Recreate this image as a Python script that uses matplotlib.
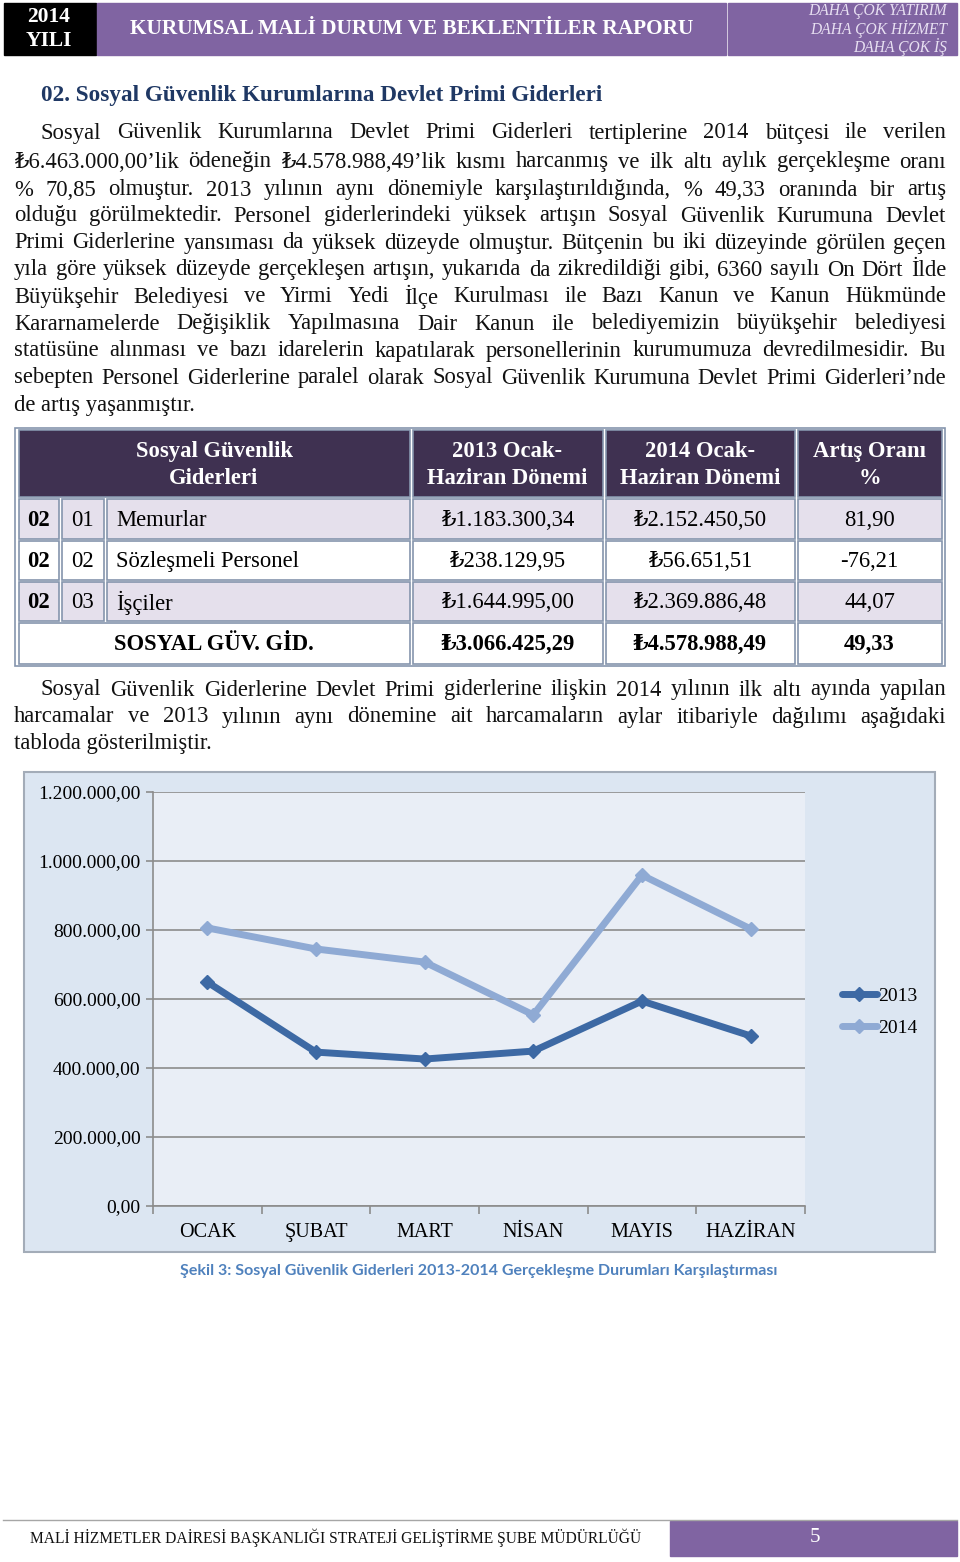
import matplotlib
matplotlib.use("Agg")
import matplotlib.pyplot as plt
from matplotlib.patches import Rectangle
from matplotlib.ticker import FuncFormatter

plt.rcParams["font.family"] = ["Liberation Serif", "DejaVu Serif"]

# chart data
months = ["OCAK", "ŞUBAT", "MART", "NİSAN", "MAYIS", "HAZİRAN"]
y2013 = [649000, 446000, 426000, 449000, 594000, 493000]
y2014 = [806000, 745000, 707000, 554000, 959000, 803000]

# table data
header_cells = ["Sosyal Güvenlik\nGiderleri", "2013 Ocak-\nHaziran Dönemi",
                "2014 Ocak-\nHaziran Dönemi", "Artış Oranı\n%"]
row_codes = ["02", "02", "02"]
row_subcodes = ["01", "02", "03"]
row_names = ["Memurlar", "Sözleşmeli Personel", "İşçiler"]
amount_2013 = ["₺1.183.300,34", "₺238.129,95", "₺1.644.995,00"]
amount_2014 = ["₺2.152.450,50", "₺56.651,51", "₺2.369.886,48"]
change_pct = ["81,90", "-76,21", "44,07"]
total_row = ["SOSYAL GÜV. GİD.", "₺3.066.425,29", "₺4.578.988,49", "49,33"]

para1 = [
    "Sosyal Güvenlik Kurumlarına Devlet Primi Giderleri tertiplerine 2014 bütçesi ile verilen",
    "₺6.463.000,00’lik ödeneğin ₺4.578.988,49’lik kısmı harcanmış ve ilk altı aylık gerçekleşme oranı",
    "% 70,85 olmuştur. 2013 yılının aynı dönemiyle karşılaştırıldığında, % 49,33 oranında bir artış",
    "olduğu görülmektedir. Personel giderlerindeki yüksek artışın Sosyal Güvenlik Kurumuna Devlet",
    "Primi Giderlerine yansıması da yüksek düzeyde olmuştur. Bütçenin bu iki düzeyinde görülen geçen",
    "yıla göre yüksek düzeyde gerçekleşen artışın, yukarıda da zikredildiği gibi, 6360 sayılı On Dört İlde",
    "Büyükşehir Belediyesi ve Yirmi Yedi İlçe Kurulması ile Bazı Kanun ve Kanun Hükmünde",
    "Kararnamelerde Değişiklik Yapılmasına Dair Kanun ile belediyemizin büyükşehir belediyesi",
    "statüsüne alınması ve bazı idarelerin kapatılarak personellerinin kurumumuza devredilmesidir. Bu",
    "sebepten Personel Giderlerine paralel olarak Sosyal Güvenlik Kurumuna Devlet Primi Giderleri’nde",
    "de artış yaşanmıştır.",
]
para2 = [
    "Sosyal Güvenlik Giderlerine Devlet Primi giderlerine ilişkin 2014 yılının ilk altı ayında yapılan",
    "harcamalar ve 2013 yılının aynı dönemine ait harcamaların aylar itibariyle dağılımı aşağıdaki",
    "tabloda gösterilmiştir.",
]

PURPLE = "#8064a2"
DARK_PURPLE = "#3f3151"
LAVENDER = "#e5e0ec"
BORDER = "#8595ad"
C2013 = "#3d69a4"
C2014 = "#8faad4"
BODY = 16.3

fig = plt.figure(figsize=(9.6, 15.62), dpi=100)
page = fig.add_axes([0, 0, 1, 1])
page.set_xlim(0, 960)
page.set_ylim(1562, 0)
page.axis("off")
renderer = fig.canvas.get_renderer()


def width_of(t):
    return t.get_window_extent(renderer).width


def fitted(x, y, s, target_w, size, ha="left", **kw):
    t = page.text(x, y, s, fontsize=size, ha=ha, va="center", **kw)
    t.set_fontsize(size * target_w / width_of(t))
    return t


def justified(x0, x1, y, line, size=BODY, justify=True, **kw):
    if not justify:
        page.text(x0, y, line, fontsize=size, ha="left", va="center", **kw)
        return
    words = line.split(" ")
    items = [page.text(0, y, w, fontsize=size, ha="left", va="center", **kw) for w in words]
    widths = [width_of(t) for t in items]
    gap = (x1 - x0 - sum(widths)) / (len(words) - 1)
    xx = x0
    for t, w in zip(items, widths):
        t.set_x(xx)
        xx += w + gap


# header band
page.add_patch(Rectangle((4, 3), 92, 52, color="black"))
page.add_patch(Rectangle((97, 3), 629, 52, color=PURPLE))
page.add_patch(Rectangle((728, 3), 229, 52, color=PURPLE))
page.text(49, 17, "2014", color="white", fontsize=15.5, fontweight="bold", ha="center", va="center")
page.text(49, 41, "YILI", color="white", fontsize=15.5, fontweight="bold", ha="center", va="center")
fitted(130, 29, "KURUMSAL MALİ DURUM VE BEKLENTİLER RAPORU", 565, 15,
       color="white", fontweight="bold")
for yy, s in zip([11, 29, 47], ["DAHA ÇOK YATIRIM", "DAHA ÇOK HİZMET", "DAHA ÇOK İŞ"]):
    page.text(947, yy, s, color="#e8e0f2", fontsize=11.2, fontstyle="italic",
              ha="right", va="center")

# section heading
fitted(41, 96, "02. Sosyal Güvenlik Kurumlarına Devlet Primi Giderleri", 562, 15,
       color="#1f3864", fontweight="bold")

# first paragraph
line_y = [133, 162, 190, 216, 243, 270, 297, 324, 351, 378, 405]
for i, (yy, line) in enumerate(zip(line_y, para1)):
    x0 = 41 if i == 0 else 14
    justified(x0, 946, yy, line, justify=(i < len(para1) - 1), color="#111111")

# table
cols = [17, 60, 105, 411, 604, 796, 943]
rows = [(430, 497), (499, 539), (541, 580), (582, 621), (623, 664)]
page.add_patch(Rectangle((15, 428), 930, 238, fill=False, ec=BORDER, lw=1.2))


def cell(x0, x1, band, fc):
    y0, y1 = band
    page.add_patch(Rectangle((x0 + 1.5, y0), x1 - x0 - 3, y1 - y0, fc=fc, ec=BORDER, lw=1.2))


# header row
hdr_spans = [(cols[0], cols[3]), (cols[3], cols[4]), (cols[4], cols[5]), (cols[5], cols[6])]
for (x0, x1), s in zip(hdr_spans, header_cells):
    cell(x0, x1, rows[0], DARK_PURPLE)
    page.text((x0 + x1) / 2, sum(rows[0]) / 2 + 1.5, s, color="white", fontsize=BODY,
              fontweight="bold", ha="center", va="center", linespacing=1.35)

for i in range(3):
    band = rows[i + 1]
    fc = LAVENDER if i != 1 else "white"
    for c in range(6):
        cell(cols[c], cols[c + 1], band, fc)
    yc = sum(band) / 2 + 1
    page.text((cols[0] + cols[1]) / 2, yc, row_codes[i], fontsize=BODY, fontweight="bold",
              ha="center", va="center")
    page.text((cols[1] + cols[2]) / 2, yc, row_subcodes[i], fontsize=BODY, ha="center", va="center")
    page.text(cols[2] + 11, yc, row_names[i], fontsize=BODY, ha="left", va="center")
    page.text((cols[3] + cols[4]) / 2, yc, amount_2013[i], fontsize=BODY, ha="center", va="center")
    page.text((cols[4] + cols[5]) / 2, yc, amount_2014[i], fontsize=BODY, ha="center", va="center")
    page.text((cols[5] + cols[6]) / 2, yc, change_pct[i], fontsize=BODY, ha="center", va="center")

band = rows[4]
for (x0, x1), s in zip(hdr_spans, total_row):
    cell(x0, x1, band, "white")
    page.text((x0 + x1) / 2, sum(band) / 2 + 1, s, fontsize=BODY, fontweight="bold",
              ha="center", va="center")

# second paragraph
for i, (yy, line) in enumerate(zip([690, 717, 744], para2)):
    x0 = 41 if i == 0 else 14
    justified(x0, 946, yy, line, justify=(i < len(para2) - 1), color="#111111")

# chart frame
page.add_patch(Rectangle((24, 772), 911, 480, fc="#dce6f2", ec="#a3acb8", lw=1.5))

ax = fig.add_axes([153 / 960, 1 - 1206 / 1562, 652 / 960, 414 / 1562])
ax.set_facecolor("#e9eef6")
xs = list(range(len(months)))
ax.plot(xs, y2013, color=C2013, lw=5, marker="D", ms=7.5, label="2013",
        solid_joinstyle="round", solid_capstyle="round")
ax.plot(xs, y2014, color=C2014, lw=5, marker="D", ms=7.5, label="2014",
        solid_joinstyle="round", solid_capstyle="round")
ax.set_xlim(-0.5, 5.5)
ax.set_ylim(0, 1200000)
ax.set_yticks(range(0, 1200001, 200000))
ax.yaxis.set_major_formatter(FuncFormatter(
    lambda v, p: f"{v:,.2f}".replace(",", "X").replace(".", ",").replace("X", ".")))
ax.grid(axis="y", color="#8c8c8c", lw=1.2)
ax.set_axisbelow(True)
ax.set_xticks(xs)
ax.set_xticklabels(months)
ax.set_xticks([i - 0.5 for i in range(7)], minor=True)
ax.tick_params(axis="x", which="major", length=0, pad=12, labelsize=14.5)
ax.tick_params(axis="x", which="minor", length=6, color="#8c8c8c", width=1.2)
ax.tick_params(axis="y", length=5, color="#8c8c8c", width=1.2, labelsize=14, pad=4)
for s in ["top", "right"]:
    ax.spines[s].set_visible(False)
for s in ["left", "bottom"]:
    ax.spines[s].set_color("#8c8c8c")
    ax.spines[s].set_linewidth(1.2)
ax.legend(loc="center left", bbox_to_anchor=(832 / 960, 1 - 1012 / 1562),
          bbox_transform=fig.transFigure, frameon=False, fontsize=14,
          handlelength=1.8, labelspacing=0.75, handletextpad=0.05, borderpad=0)

# caption
page.text(479, 1271, "Şekil 3: Sosyal Güvenlik Giderleri 2013-2014 Gerçekleşme Durumları Karşılaştırması",
          family=["Lato", "DejaVu Sans"], fontweight="bold", fontsize=11.5, color="#4f81bd",
          ha="center", va="center")

# footer
page.plot([3, 957], [1520, 1520], color="#a6a6a6", lw=1)
page.add_patch(Rectangle((670, 1521), 287, 35, color=PURPLE))
fitted(30, 1538, "MALİ HİZMETLER DAİRESİ BAŞKANLIĞI STRATEJİ GELİŞTİRME ŞUBE MÜDÜRLÜĞÜ", 612, 11,
       color="#111111")
page.text(815, 1538, "5", color="white", fontsize=15, ha="center", va="center")

fig.savefig("out.png", dpi=100, facecolor="white")
